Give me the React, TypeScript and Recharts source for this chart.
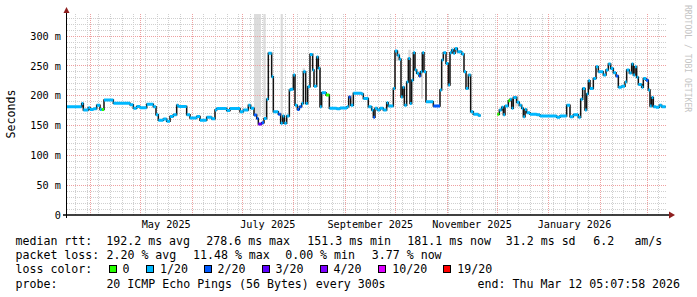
import React from "react";
import { ComposedChart, Line, Area, XAxis, YAxis, ReferenceLine } from "recharts";

// x values are days since 2025-03-18 (graph start), y values are milliseconds
const START = Date.UTC(2025, 2, 18);
const SPAN_DAYS = 360;
const Y_MAX = 337;

const MEDIAN_DAY = [
  0, 8.8, 9.8, 12.8, 13.8, 15.8, 17.8, 19.8, 20.8, 22.2, 27.8, 37.8, 39.8, 41.8, 43.8, 47.8, 51.8, 53.4, 54.8, 57.8,
  59.8, 61.8, 63.8, 65.8, 66.8, 71.8, 73.8, 77.8, 79.8, 83.8, 86.8, 88.8, 89.8, 95.8, 97.8, 103.8, 105.8, 108.8, 110.2, 112.2,
  113.8, 114.8, 116.8, 118.2, 119.8, 120.8, 122.8, 123.8, 126.8, 128.2, 129.4, 130.4, 131.8, 133.4, 134.2, 135.8, 136.8, 138.2, 139.4, 140.8,
  141.8, 143.2, 144.4, 145.8, 147.4, 148.2, 149.8, 150.8, 151.8, 152.8, 155.4, 157.4, 161.8, 163.8, 168, 169, 170.2, 171.8, 176.8, 177.8,
  180.8, 182.8, 183.8, 184.8, 186.2, 187.8, 189.8, 191.8, 192.8, 195.8, 196.8, 198.2, 199.4, 200.4, 201.4, 202.4, 203.8, 204.8, 205.8, 206.8,
  207.8, 208.8, 209.8, 211.2, 212.2, 213.2, 214.2, 215.4, 219.8, 223.8, 224.8, 225.8, 227.4, 228.8, 229.8, 230.8, 231.8, 232.8, 234.2, 236.8,
  238.2, 239.4, 240.8, 242.2, 243.8, 246.8, 248.2, 258.2, 259.4, 260.8, 261.8, 262.8, 264.8, 265.8, 266.8, 267.8, 269.8, 271.4, 272.8, 273.8,
  274.8, 275.8, 277.8, 281.8, 283.8, 293.8, 295.8, 299.8, 301.8, 303.8, 306.8, 308.2, 309.4, 310.8, 311.8, 312.8, 313.8, 315.8, 317.4, 318.8,
  321.8, 323.4, 324.8, 326.2, 327.8, 329.4, 330.8, 332.8, 334.8, 335.8, 337.4, 338.8, 339.8, 340.8, 341.8, 342.8, 344.8, 345.8, 347.4, 348.8,
  349.8, 350.8, 351.8, 353.4, 355.4, 356.8, 359.2,
];

const MEDIAN_MS: (number | null)[] = [
  181.5, 187, 176, 180, 177, 178, 184, 177, 177, 193, 187.5, 185, 179, 182, 180, 185.5, 181.5, 168, 159, 161,
  157, 165, 168, 184, 182, 168, 162.5, 165, 159, 164, 161.5, 176, 178.5, 175, 178.5, 173, 176, 184, 179, 167.6,
  162, 152.5, 154.7, 162, 194, 271, 232, 173, 169, 153.7, 166, 153.7, 166, 209.5, 211, 234.6, 184, 177, 181.5, 187,
  240, 187, 215, 269, 243, 216, 265, 246, 181.5, 205, 201, 179, 178, 179.5, 181.5, 198, 184, 204, 203, 195.5,
  181.5, 176, 163.7, 178.8, 176, 178.8, 176, 188, 182.7, 212, 275, 268, 261, 198, 214, 184, 223, 262.5, 187, 226,
  272, 243, 237.5, 233, 240, 272, 240, 190, 182.7, 209.5, 260, 272, 254, 218, 272, 276.5, 271, 279, 273.6, 270,
  240, 212, 234.6, 173, 169, 167, null, 169, 176, 180.5, 168, 182.7, 191.5, 194, 178.8, 197, 189, 184, 178.8, 164.7,
  177, 171.5, 169, 168, 166, 163.7, 166, 184, 164.7, 168, 163.7, 194, 212, 176, 202.8, 225, 212, 229, 248.6, 240,
  234.6, 243, 253, 245.8, 238.5, 233, 214, 216, 223, 243, 238, 253, 234.6, 248.6, 231, 219, 214, 229, 226, 209.5,
  182.7, 197, 181.5, 180.5, 184, 181.5,
];

// lost pings out of 20 for each median step
const MEDIAN_LOSS = [
  1, 1, 1, 1, 1, 1, 1, 1, 0, 1, 1, 1, 1, 1, 1, 1, 1, 1, 1, 1,
  1, 1, 1, 1, 1, 1, 1, 1, 1, 1, 1, 1, 1, 1, 1, 1, 1, 1, 1, 2,
  2, 3, 2, 1, 1, 1, 1, 1, 2, 1, 1, 1, 1, 1, 1, 1, 1, 2, 2, 1,
  1, 1, 1, 1, 1, 1, 1, 1, 1, 1, 0, 1, 1, 1, 1, 2, 1, 1, 1, 1,
  1, 1, 2, 1, 1, 1, 1, 1, 1, 1, 1, 1, 1, 1, 1, 1, 1, 1, 1, 1,
  1, 1, 1, 2, 1, 1, 1, 1, 2, 1, 1, 1, 1, 1, 1, 1, 1, 1, 1, 1,
  1, 1, 1, 1, 1, 1, 1, 0, 1, 1, 1, 1, 0, 1, 1, 1, 1, 1, 1, 1,
  1, 1, 1, 1, 1, 1, 1, 1, 1, 1, 1, 1, 1, 1, 1, 1, 1, 1, 1, 1,
  1, 1, 1, 1, 1, 2, 1, 1, 1, 1, 1, 1, 1, 1, 1, 1, 1, 1, 2, 1,
  1, 1, 1, 1, 1, 1,
];

// smoke (spread of the 20 pings) where it shows
const SMOKE_FROM = [112.2, 117.8, 128.2, 141.4, 197.4, 204.8, 212.4, 268.8];
const SMOKE_TO = [116.4, 119.2, 129.5, 142.8, 199.4, 206.2, 213.6, 271.2];
const SMOKE_LOW = [165, 165, 168, 235, 258, 264, 195, 182];
const SMOKE_HIGH = [337, 337, 337, 246, 276, 277, 240, 200];

const LOSS_LEVELS = [0, 1, 2, 3, 4, 10, 19];
const LOSS_LABELS = ["0", "1/20", "2/20", "3/20", "4/20", "10/20", "19/20"];
const LOSS_COLORS = ["#26ff00", "#00b8ff", "#0059ff", "#5e00ff", "#7e00ff", "#dd00ff", "#ff0000"];

const LABEL_MONTHS = [4, 6, 8, 10, 12];
const LABEL_TEXT = ["May 2025", "July 2025", "September 2025", "November 2025", "January 2026"];

const Y_TICKS = [0, 50, 100, 150, 200, 250, 300];

const FONT = '"DejaVu Sans Mono", monospace';
const W = 697;
const CHART_H = 232;
const PLOT_LEFT = 67;
const PLOT_RIGHT = 667;
const PLOT_TOP = 14;
const PLOT_BOTTOM = 215;

const dayOf = (y: number, m: number, d: number) => (Date.UTC(y, m, d) - START) / 864e5;

const MONTH_STARTS: number[] = [];
for (let m = 3; m <= 14; m++) MONTH_STARTS.push(dayOf(2025, m, 1));
const LABEL_DAYS = LABEL_MONTHS.map((m) => (dayOf(2025, m, 1) + dayOf(2025, m + 1, 1)) / 2);
const SUNDAYS: number[] = [];
for (let d = dayOf(2025, 2, 23); d < SPAN_DAYS; d += 7) SUNDAYS.push(d);
const MINOR_MS: number[] = [];
for (let v = 10; v < Y_MAX; v += 10) if (v % 50 !== 0) MINOR_MS.push(v);

// black step line of the median
const medianRows: { d: number; v: number | null }[] = [];
MEDIAN_MS.forEach((v, i) => {
  medianRows.push({ d: MEDIAN_DAY[i], v });
  if (v !== null && (i === MEDIAN_MS.length - 1 || MEDIAN_MS[i + 1] === null)) {
    medianRows.push({ d: MEDIAN_DAY[i + 1], v });
  }
});

// one thick horizontal piece per median step, grouped by loss colour
function lossRows(level: number) {
  const rows: { d: number; v: number | null }[] = [];
  MEDIAN_MS.forEach((v, i) => {
    if (v === null || MEDIAN_LOSS[i] !== level) return;
    rows.push({ d: MEDIAN_DAY[i], v }, { d: MEDIAN_DAY[i + 1], v }, { d: MEDIAN_DAY[i + 1], v: null });
  });
  return rows;
}

const smokeRows: { d: number; s: number[] | null }[] = [];
SMOKE_FROM.forEach((from, i) => {
  const s = [SMOKE_LOW[i], SMOKE_HIGH[i]];
  smokeRows.push({ d: from, s }, { d: SMOKE_TO[i], s }, { d: SMOKE_TO[i], s: null });
});

const LEGEND_ROWS: [number, string][][] = [
  [[15.5, "median rtt:"], [106.3, "192.2 ms avg"], [206.3, "278.6 ms max"], [307.3, "151.3 ms min"], [407.3, "181.1 ms now"], [505.8, "31.2 ms sd"], [593.3, "6.2"], [634.4, "am/s"]],
  [[15.5, "packet loss:"], [106.5, "2.20 % avg"], [193, "11.48 % max"], [285.2, "0.00 % min"], [371.8, "3.77 % now"]],
  [[15.5, "loss color:"]],
  [[15.5, "probe:"], [106.4, "20 ICMP Echo Pings (56 Bytes) every 300s"], [477.6, "end: Thu Mar 12 05:07:58 2026"]],
];
const LEGEND_TOPS = [234, 248, 262, 277];
const BOX_LEFTS = [108.5, 146, 203.5, 261.5, 319.5, 378.3, 443.3];

export default function App() {
  return (
    <div style={{ position: "relative", width: W, height: 297, background: "#fff", fontFamily: FONT, color: "#000" }}>
      <style>{"body{margin:0}"}</style>
      <ComposedChart width={W} height={CHART_H} margin={{ top: PLOT_TOP, right: W - PLOT_RIGHT, bottom: 2, left: 0 }}>
        <XAxis
          dataKey="d"
          type="number"
          domain={[0, SPAN_DAYS]}
          allowDataOverflow
          ticks={LABEL_DAYS}
          interval={0}
          tickFormatter={(v) => LABEL_TEXT[LABEL_DAYS.indexOf(v)] ?? ""}
          axisLine={false}
          tickLine={false}
          tickSize={4}
          tickMargin={2}
          height={15}
          tick={{ fill: "#000", fontSize: 10.2, fontFamily: FONT }}
        />
        <YAxis
          type="number"
          domain={[0, Y_MAX]}
          allowDataOverflow
          ticks={Y_TICKS}
          interval={0}
          tickFormatter={(v) => (v === 0 ? "0" : `${v} m`)}
          axisLine={false}
          tickLine={false}
          tickSize={4}
          tickMargin={2}
          width={PLOT_LEFT}
          tick={{ fill: "#000", fontSize: 10.2, fontFamily: FONT }}
        />
        {MINOR_MS.map((v) => (
          <ReferenceLine key={`hm${v}`} y={v} stroke="#cfcfcf" strokeDasharray="1 1" shapeRendering="crispEdges" />
        ))}
        {SUNDAYS.map((d) => (
          <ReferenceLine key={`vm${d}`} x={d} stroke="#cfcfcf" strokeDasharray="1 1" shapeRendering="crispEdges" />
        ))}
        {Y_TICKS.slice(1).map((v) => (
          <ReferenceLine key={`hM${v}`} y={v} stroke="#eea0a0" strokeDasharray="1 1" shapeRendering="crispEdges" />
        ))}
        {MONTH_STARTS.map((d) => (
          <ReferenceLine key={`vM${d}`} x={d} stroke="#eea0a0" strokeDasharray="1 1" shapeRendering="crispEdges" />
        ))}
        <Area
          data={smokeRows}
          dataKey="s"
          type="linear"
          stroke="none"
          fill="#dcdcdc"
          fillOpacity={1}
          isAnimationActive={false}
          legendType="none"
        />
        <Line
          data={medianRows}
          dataKey="v"
          type="stepAfter"
          stroke="#111"
          strokeWidth={1.5}
          dot={false}
          activeDot={false}
          isAnimationActive={false}
          legendType="none"
        />
        {LOSS_LEVELS.map((level, k) => {
          const rows = lossRows(level);
          if (rows.length === 0) return null;
          return (
            <Line
              key={`loss${level}`}
              data={rows}
              dataKey="v"
              type="linear"
              stroke={LOSS_COLORS[k]}
              strokeWidth={3}
              strokeLinecap="butt"
              dot={false}
              activeDot={false}
              isAnimationActive={false}
              legendType="none"
            />
          );
        })}
      </ComposedChart>

      <svg width={W} height={CHART_H} style={{ position: "absolute", left: 0, top: 0, pointerEvents: "none" }}>
        <line x1={PLOT_LEFT - 0.5} y1={8} x2={PLOT_LEFT - 0.5} y2={PLOT_BOTTOM + 3} stroke="#000" strokeWidth={1} />
        <line x1={PLOT_LEFT - 4} y1={PLOT_BOTTOM} x2={PLOT_RIGHT + 3} y2={PLOT_BOTTOM} stroke="#000" strokeWidth={1.5} />
        <polygon points={`${PLOT_LEFT - 3.5},13 ${PLOT_LEFT - 0.5},7 ${PLOT_LEFT + 2.5},13`} fill="#8e1f1f" />
        <polygon points={`${PLOT_RIGHT + 2},${PLOT_BOTTOM - 3.5} ${PLOT_RIGHT + 8},${PLOT_BOTTOM} ${PLOT_RIGHT + 2},${PLOT_BOTTOM + 3.5}`} fill="#8e1f1f" />
        <text x={14.7} y={114} transform="rotate(-90 14.7 114)" textAnchor="middle" fontFamily={FONT} fontSize={11.6} fill="#000">
          Seconds
        </text>
        <text x={684.8} y={5} transform="rotate(90 684.8 5)" textAnchor="start" fontFamily={FONT} fontSize={8.1} fill="#c4c4c4">
          RRDTOOL / TOBI OETIKER
        </text>
      </svg>

      {LEGEND_ROWS.map((row, r) =>
        row.map(([x, text]) => (
          <span
            key={`${r}-${x}`}
            style={{ position: "absolute", left: x, top: LEGEND_TOPS[r], fontSize: 11.6, lineHeight: "14px", whiteSpace: "pre" }}
          >
            {text}
          </span>
        ))
      )}
      {BOX_LEFTS.map((x, k) => (
        <React.Fragment key={`box${k}`}>
          <span
            style={{
              position: "absolute",
              left: x,
              top: 265,
              width: 8,
              height: 8,
              boxSizing: "border-box",
              border: "1px solid #000",
              background: LOSS_COLORS[k],
            }}
          />
          <span style={{ position: "absolute", left: x + 14, top: LEGEND_TOPS[2], fontSize: 11.6, lineHeight: "14px", whiteSpace: "pre" }}>
            {LOSS_LABELS[k]}
          </span>
        </React.Fragment>
      ))}
    </div>
  );
}
